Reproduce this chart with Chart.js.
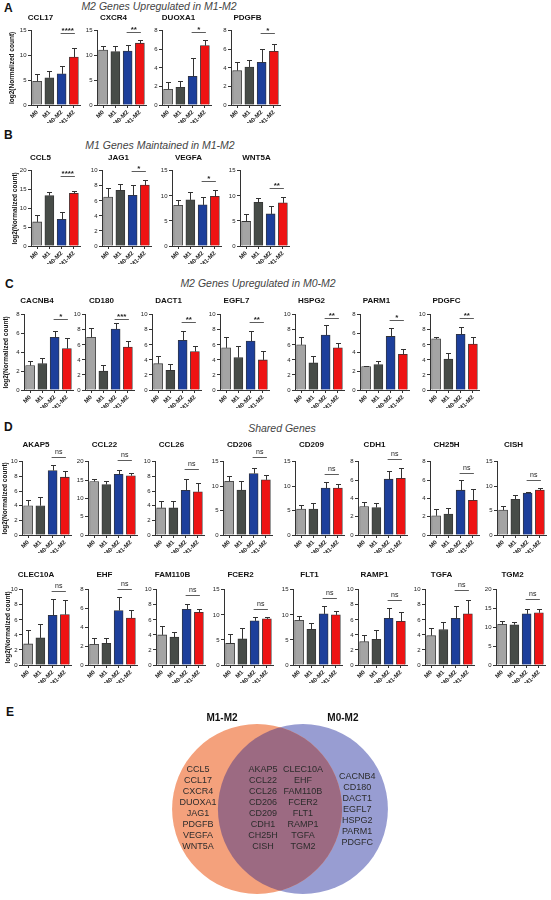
<!DOCTYPE html>
<html>
<head>
<meta charset="utf-8">
<script src="https://cdn.jsdelivr.net/npm/chart.js@4.4.1/dist/chart.umd.min.js"></script>
<style>
  html, body { margin: 0; padding: 0; background: #fff; }
  body { width: 551px; height: 900px; position: relative; overflow: hidden;
         font-family: "Liberation Sans", Arial, sans-serif; }
  .lbl { position: absolute; font-weight: bold; font-size: 12px; color: #111; line-height: 1; transform: translateY(-50%); }
  .sub { position: absolute; font-style: italic; font-size: 10.5px; color: #444; white-space: nowrap;
         line-height: 1; transform: translate(-50%, -50%); }
  canvas { position: absolute; }
</style>
</head>
<body>
<div class="lbl" style="left:4px;top:8px">A</div>
<div class="sub" style="left:159px;top:6px">M2 Genes Upregulated in M1-M2</div>
<div class="lbl" style="left:4px;top:135px">B</div>
<div class="sub" style="left:160px;top:145px">M1 Genes Maintained in M1-M2</div>
<div class="lbl" style="left:5px;top:284px">C</div>
<div class="sub" style="left:258px;top:283px">M2 Genes Upregulated in M0-M2</div>
<div class="lbl" style="left:4px;top:427px">D</div>
<div class="sub" style="left:282px;top:428px">Shared Genes</div>
<div class="lbl" style="left:6px;top:712px">E</div>

<script>
// ---- data (log2 normalized count, mean / SD) ----
const GROUPS = ["M0", "M1", "M0-M2", "M1-M2"];

const genesA = ["CCL17", "CXCR4", "DUOXA1", "PDGFB"];
const meansA = [[4.8, 5.5, 6.3, 9.7], [11.1, 10.8, 10.9, 12.5], [1.7, 1.9, 3.1, 6.4], [3.7, 4.1, 4.6, 5.8]];
const sdA = [[1.4, 1.4, 1.5, 1.8], [0.9, 1.1, 1.3, 0.7], [0.8, 0.7, 2.0, 0.6], [0.9, 0.7, 1.4, 0.8]];
const sigA = ["****", "**", "*", "*"];
const sigAtA = [14.5, 14.7, 7.85, 7.75];
const yMaxA = [15, 15, 8, 8];
const yStepA = [5, 5, 2, 2];

const genesB = ["CCL5", "JAG1", "VEGFA", "WNT5A"];
const meansB = [[6.4, 13.4, 7.1, 14.0], [6.5, 7.4, 6.75, 8.1], [8.1, 9.2, 8.2, 9.9], [4.9, 8.7, 6.4, 8.6]];
const sdB = [[1.8, 0.9, 2.0, 0.7], [1.2, 0.8, 1.35, 0.7], [1.1, 1.5, 1.5, 1.3], [1.4, 0.9, 1.6, 1.1]];
const sigB = ["****", "*", "*", "**"];
const sigAtB = [18.6, 10.0, 12.9, 11.5];
const yMaxB = [20, 10, 15, 15];
const yStepB = [5, 2, 5, 5];

const genesC = ["CACNB4", "CD180", "DACT1", "EGFL7", "HSPG2", "PARM1", "PDGFC"];
const meansC = [[2.6, 2.8, 5.6, 4.4], [7.0, 2.5, 8.1, 5.7], [3.5, 2.6, 6.6, 5.1], [5.6, 4.3, 6.5, 4.0],
                [6.0, 3.6, 7.3, 5.6], [2.5, 2.7, 5.7, 3.8], [6.8, 4.1, 7.4, 6.1]];
const sdC = [[0.5, 0.6, 0.7, 1.1], [1.3, 0.8, 0.8, 0.8], [1.0, 0.8, 1.2, 0.8], [1.5, 1.5, 1.4, 1.2],
             [1.0, 0.9, 1.3, 0.7], [0.1, 0.4, 0.9, 0.6], [0.3, 0.8, 1.0, 0.9]];
const sigC = ["*", "***", "**", "**", "**", "*", "**"];
const sigAtC = [7.6, 9.5, 9.1, 9.1, 9.6, 7.5, 9.6];
const yMaxC = [8, 10, 10, 10, 10, 8, 10];
const yStepC = [2, 2, 2, 2, 2, 2, 2];

const genesD1 = ["AKAP5", "CCL22", "CCL26", "CD206", "CD209", "CDH1", "CH25H", "CISH"];
const meansD1 = [[4.0, 4.0, 8.8, 7.9], [14.6, 13.8, 16.6, 16.2], [3.7, 3.7, 6.1, 5.9], [11.0, 9.2, 12.6, 11.3],
                 [5.3, 5.3, 9.6, 9.6], [3.1, 3.0, 6.1, 6.2], [2.1, 2.3, 4.9, 3.8], [5.1, 7.3, 8.6, 9.2]];
const sdD1 = [[0.8, 1.2, 0.7, 0.9], [0.8, 1.0, 1.2, 0.7], [0.9, 0.9, 1.6, 1.2], [1.0, 1.8, 1.2, 0.9],
              [0.8, 1.3, 1.2, 0.9], [0.5, 0.5, 0.9, 1.1], [0.7, 0.6, 1.1, 1.2], [0.9, 0.9, 0.3, 0.4]];
const sigD1 = ["ns", "ns", "ns", "ns", "ns", "ns", "ns", "ns"];
const sigAtD1 = [10.7, 20.4, 9.0, 16.0, 12.6, 8.3, 6.8, 11.3];
const yMaxD1 = [10, 20, 10, 15, 15, 8, 8, 15];
const yStepD1 = [2, 5, 2, 5, 5, 2, 2, 5];

const genesD2 = ["CLEC10A", "EHF", "FAM110B", "FCER2", "FLT1", "RAMP1", "TGFA", "TGM2"];
const meansD2 = [[2.8, 3.6, 6.6, 6.7], [2.2, 2.3, 5.8, 5.0], [4.0, 3.7, 7.4, 7.0], [4.3, 5.2, 8.8, 9.2],
                 [8.9, 7.1, 10.2, 10.0], [3.1, 3.4, 6.2, 5.8], [3.9, 4.7, 6.2, 6.8], [10.8, 10.7, 13.6, 13.9]];
const sdD2 = [[1.8, 1.9, 2.2, 2.0], [0.7, 0.6, 1.4, 0.9], [1.2, 0.7, 0.7, 0.4], [1.8, 2.2, 0.7, 0.4],
              [0.8, 1.3, 1.5, 0.8], [0.9, 1.3, 1.4, 1.2], [1.0, 1.0, 1.7, 1.9], [1.0, 0.7, 1.3, 0.9]];
const sigD2 = ["ns", "ns", "ns", "ns", "ns", "ns", "ns", "ns"];
const sigAtD2 = [9.9, 8.1, 9.3, 11.1, 13.4, 8.6, 10.0, 17.5];
const yMaxD2 = [10, 8, 10, 15, 15, 10, 10, 20];
const yStepD2 = [2, 2, 2, 5, 5, 2, 2, 5];

// Venn (panel E)
const vennSets = ["M1-M2", "M0-M2"];
const onlyM1M2 = ["CCL5", "CCL17", "CXCR4", "DUOXA1", "JAG1", "PDGFB", "VEGFA", "WNT5A"];
const sharedCol1 = ["AKAP5", "CCL22", "CCL26", "CD206", "CD209", "CDH1", "CH25H", "CISH"];
const sharedCol2 = ["CLEC10A", "EHF", "FAM110B", "FCER2", "FLT1", "RAMP1", "TGFA", "TGM2"];
const onlyM0M2 = ["CACNB4", "CD180", "DACT1", "EGFL7", "HSPG2", "PARM1", "PDGFC"];

// ---- styling / layout ----
const FONT = '"Liberation Sans", Arial, sans-serif';
const BAR_COLORS = ["#a4a4a4", "#474c48", "#1d3f9b", "#ee1313"];
const INK = "#333";
const PLOT_W = 49;
const X_H = 18;
const TITLE_SIZE = 8;

Chart.defaults.font.family = FONT;
Chart.defaults.color = "#222";

const ROWS = [
  { genes: genesA, means: meansA, sd: sdA, sig: sigA, sigAt: sigAtA, yMax: yMaxA, yStep: yStepA,
    axisX: [31, 97, 162, 231], titleY: 18, topY: 31, baseY: 105, yTitleX: 12 },
  { genes: genesB, means: meansB, sd: sdB, sig: sigB, sigAt: sigAtB, yMax: yMaxB, yStep: yStepB,
    axisX: [31, 102, 172, 240], titleY: 158, topY: 171, baseY: 246, yTitleX: 15 },
  { genes: genesC, means: meansC, sd: sdC, sig: sigC, sigAt: sigAtC, yMax: yMaxC, yStep: yStepC,
    axisX: [24, 85, 152, 220, 295, 360, 430], titleY: 301, topY: 315, baseY: 390, yTitleX: 6 },
  { genes: genesD1, means: meansD1, sd: sdD1, sig: sigD1, sigAt: sigAtD1, yMax: yMaxD1, yStep: yStepD1,
    axisX: [22, 88, 155, 223, 295, 358, 430, 497], titleY: 445, topY: 462, baseY: 535, yTitleX: 5 },
  { genes: genesD2, means: meansD2, sd: sdD2, sig: sigD2, sigAt: sigAtD2, yMax: yMaxD2, yStep: yStepD2,
    axisX: [22, 88, 156, 224, 293, 358, 425, 496], titleY: 575, topY: 590, baseY: 665, yTitleX: 8 },
];

// error bars (mean + SD, upward only) and the significance bracket between M0-M2 and M1-M2
const errorBars = {
  id: "errorBars",
  afterDatasetsDraw(chart, args, opts) {
    const { ctx } = chart;
    const y = chart.scales.y;
    const meta = chart.getDatasetMeta(0);
    const means = chart.data.datasets[0].data;
    ctx.save();
    ctx.strokeStyle = INK;
    ctx.lineWidth = 1;
    meta.data.forEach((bar, i) => {
      const top = Math.round(y.getPixelForValue(means[i] + opts.sd[i])) + 0.5;
      const x = Math.round(bar.x) + 0.5;
      ctx.beginPath();
      ctx.moveTo(x, bar.y);
      ctx.lineTo(x, top);
      ctx.moveTo(x - 2.5, top);
      ctx.lineTo(x + 2.5, top);
      ctx.stroke();
    });
    const b = meta.data[2], r = meta.data[3];
    const ly = Math.round(y.getPixelForValue(opts.sigAt)) + 0.5;
    ctx.lineWidth = 0.8;
    ctx.beginPath();
    ctx.moveTo(b.x - 1, ly);
    ctx.lineTo(r.x + 1, ly);
    ctx.stroke();
    const ns = opts.sig === "ns";
    ctx.fillStyle = "#222";
    ctx.font = ns ? `7px ${FONT}` : `bold 8px ${FONT}`;
    ctx.textAlign = "center";
    ctx.textBaseline = ns ? "bottom" : "middle";
    ctx.fillText(opts.sig, (b.x + r.x) / 2, ns ? ly - 1.5 : ly - 3);
    ctx.restore();
  },
};

function makeBarChart(row, i) {
  const first = i === 0;
  const axisX = row.axisX[i];
  const yW = first ? axisX - 1 : 16;
  const canvasTop = row.titleY - (TITLE_SIZE * 1.2) / 2;
  const titleGap = row.topY - canvasTop - TITLE_SIZE * 1.2;

  const canvas = document.createElement("canvas");
  canvas.width = yW + PLOT_W + 3;
  canvas.height = Math.round(row.baseY - canvasTop + X_H);
  canvas.style.left = `${axisX - yW}px`;
  canvas.style.top = `${canvasTop}px`;
  document.body.appendChild(canvas);

  new Chart(canvas, {
    type: "bar",
    data: {
      labels: GROUPS,
      datasets: [{
        data: row.means[i],
        backgroundColor: BAR_COLORS,
        borderColor: INK,
        borderWidth: 0.8,
        barThickness: 9,
      }],
    },
    options: {
      responsive: false,
      animation: false,
      devicePixelRatio: 1,
      events: [],
      layout: { padding: { left: 0, right: 3, top: 0, bottom: 0 } },
      plugins: {
        legend: { display: false },
        tooltip: { enabled: false },
        title: {
          display: true,
          text: row.genes[i],
          color: "#111",
          font: { size: TITLE_SIZE, weight: "bold" },
          padding: { top: 0, bottom: titleGap },
        },
        errorBars: { sd: row.sd[i], sig: row.sig[i], sigAt: row.sigAt[i] },
      },
      scales: {
        x: {
          offset: true,
          grid: { display: true, drawOnChartArea: false, offset: false, tickLength: 3, color: INK },
          border: { display: true, color: INK, width: 1 },
          ticks: { font: { size: 6, weight: "bold" }, color: "#222", minRotation: 45, maxRotation: 45,
                   autoSkip: false, padding: 1 },
          afterFit(s) { s.height = X_H; s.paddingLeft = 0; s.paddingRight = 0; },
        },
        y: {
          min: 0,
          max: row.yMax[i],
          grid: { display: true, drawOnChartArea: false, tickLength: 3, color: INK },
          border: { display: true, color: INK, width: 1 },
          ticks: { stepSize: row.yStep[i], font: { size: 6 }, color: "#222", padding: 1.5 },
          title: {
            display: first,
            text: "log2(Normalized count)",
            color: "#111",
            font: { size: 6.5, weight: "bold" },
            padding: { top: row.yTitleX - 1 - 3.9, bottom: 0 },
          },
          afterFit(s) { s.width = yW; s.paddingTop = 0; s.paddingBottom = 0; },
        },
      },
    },
    plugins: [errorBars],
  });
}

ROWS.forEach((row) => row.genes.forEach((_, i) => makeBarChart(row, i)));

// ---- Venn diagram: two bubbles, overlap painted by clipping to both ----
const VENN_FILL = ["#f4a17c", "#989dd2"];
const VENN_OVERLAP = "#9c6a82";
const VENN_R = 85;

const vennText = {
  id: "vennText",
  afterDatasetsDraw(chart) {
    const { ctx } = chart;
    const { x, y } = chart.scales;
    const a = chart.getDatasetMeta(0).data[0];
    const b = chart.getDatasetMeta(1).data[0];
    ctx.save();
    ctx.beginPath();
    ctx.arc(a.x, a.y, a.options.radius, 0, Math.PI * 2);
    ctx.clip();
    ctx.beginPath();
    ctx.arc(b.x, b.y, b.options.radius, 0, Math.PI * 2);
    ctx.fillStyle = VENN_OVERLAP;
    ctx.fill();
    ctx.restore();

    ctx.save();
    ctx.textAlign = "center";
    ctx.textBaseline = "middle";
    ctx.fillStyle = "#111";
    ctx.font = `bold 10px ${FONT}`;
    ctx.fillText(vennSets[0], x.getPixelForValue(-2.0), y.getPixelForValue(4.69));
    ctx.fillText(vennSets[1], x.getPixelForValue(2.17), y.getPixelForValue(4.69));

    ctx.fillStyle = "#2c2c2c";
    ctx.font = `9px ${FONT}`;
    const col = (names, cx, startY) => names.forEach((n, k) =>
      ctx.fillText(n, x.getPixelForValue(cx), y.getPixelForValue(startY - k * 0.567)));
    col(onlyM1M2, -2.83, 2.06);
    col(sharedCol1, -0.59, 2.06);
    col(sharedCol2, 0.79, 2.06);
    col(onlyM0M2, 2.66, 1.70);
    ctx.restore();
  },
};

const vennCanvas = document.createElement("canvas");
vennCanvas.width = 290;
vennCanvas.height = 194;
vennCanvas.style.left = "135px";
vennCanvas.style.top = "712px";
document.body.appendChild(vennCanvas);

new Chart(vennCanvas, {
  type: "bubble",
  data: {
    datasets: vennSets.map((name, k) => ({
      label: name,
      data: [{ x: k === 0 ? -0.79 : 0.79, y: 0, r: VENN_R }],
      backgroundColor: VENN_FILL[k],
      borderWidth: 0,
      clip: false,
    })),
  },
  options: {
    responsive: false,
    animation: false,
    devicePixelRatio: 1,
    events: [],
    layout: { padding: 0, autoPadding: false },
    plugins: { legend: { display: false }, tooltip: { enabled: false } },
    scales: {
      x: { display: false, min: -5, max: 5 },
      y: { display: false, min: -5, max: 5 },
    },
  },
  plugins: [vennText],
});
</script>
</body>
</html>
